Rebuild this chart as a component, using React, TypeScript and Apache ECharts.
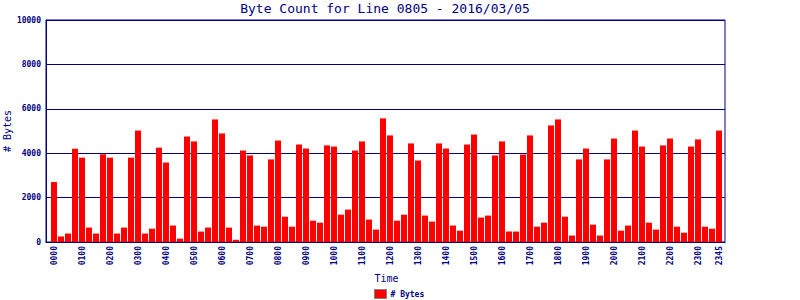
import React, { useEffect, useRef } from "react";
import * as echarts from "echarts";

const TITLE = "Byte Count for Line 0805 - 2016/03/05";
const SERIES_NAME = "# Bytes";

const times = [
  "0000", "0015", "0030", "0045", "0100", "0115", "0130", "0145",
  "0200", "0215", "0230", "0245", "0300", "0315", "0330", "0345",
  "0400", "0415", "0430", "0445", "0500", "0515", "0530", "0545",
  "0600", "0615", "0630", "0645", "0700", "0715", "0730", "0745",
  "0800", "0815", "0830", "0845", "0900", "0915", "0930", "0945",
  "1000", "1015", "1030", "1045", "1100", "1115", "1130", "1145",
  "1200", "1215", "1230", "1245", "1300", "1315", "1330", "1345",
  "1400", "1415", "1430", "1445", "1500", "1515", "1530", "1545",
  "1600", "1615", "1630", "1645", "1700", "1715", "1730", "1745",
  "1800", "1815", "1830", "1845", "1900", "1915", "1930", "1945",
  "2000", "2015", "2030", "2045", "2100", "2115", "2130", "2145",
  "2200", "2215", "2230", "2245", "2300", "2315", "2330", "2345",
];

const bytes = [
  2700, 250, 380, 4200, 3800, 650, 380, 3950,
  3800, 380, 650, 3800, 5020, 380, 600, 4250,
  3580, 740, 150, 4750, 4530, 470, 650, 5520,
  4890, 650, 100, 4120, 3900, 740, 690, 3720,
  4570, 1140, 690, 4390, 4210, 960, 870, 4350,
  4300, 1230, 1460, 4120, 4530, 1010, 560, 5570,
  4800, 960, 1230, 4440, 3670, 1190, 920, 4440,
  4210, 740, 510, 4390, 4840, 1100, 1190, 3900,
  4530, 470, 470, 3940, 4800, 690, 870, 5250,
  5520, 1140, 290, 3720, 4210, 780, 290, 3720,
  4660, 510, 740, 5020, 4300, 870, 560, 4350,
  4660, 690, 420, 4300, 4620, 690, 600, 5020,
];

const Y_MIN = 0;
const Y_MAX = 10000;
const Y_STEP = 2000;

const NAVY = "#000080";
const RED = "#ff0000";
const MONO = '"DejaVu Sans Mono", "Liberation Mono", monospace';

export default function App() {
  const ref = useRef<HTMLDivElement>(null);

  useEffect(() => {
    if (!ref.current) return;
    const chart = echarts.init(ref.current, undefined, { renderer: "svg" });
    const lastIdx = times.length - 1;
    chart.setOption({
      animation: false,
      backgroundColor: "#ffffff",
      graphic: [
        {
          type: "text",
          x: 385,
          y: 2,
          style: {
            text: TITLE,
            fill: NAVY,
            font: `13px ${MONO}`,
            textAlign: "center",
            textVerticalAlign: "top",
          },
        },
      ],
      legend: {
        data: [SERIES_NAME],
        top: 289,
        left: 374,
        padding: 0,
        itemWidth: 12,
        itemHeight: 9,
        itemGap: 4,
        icon: "rect",
        itemStyle: { borderColor: "#808080", borderWidth: 1 },
        textStyle: { color: NAVY, fontFamily: MONO, fontSize: 8, fontWeight: "bold", padding: [0, 0, 0, -1] },
      },
      grid: [
        {
          left: 46,
          right: 75,
          top: 20,
          bottom: 58,
          show: true,
          borderColor: NAVY,
          borderWidth: 1,
          backgroundColor: "transparent",
          containLabel: false,
          outerBoundsMode: "none",
        },
        {
          left: 50.5,
          right: 77.5,
          top: 20,
          bottom: 58,
          containLabel: false,
          outerBoundsMode: "none",
        },
      ],
      xAxis: [
        {
          gridIndex: 0,
          type: "value",
          min: 0,
          max: 1,
          axisLine: { show: true, lineStyle: { color: NAVY, width: 1 } },
          axisTick: { show: false },
          axisLabel: { show: false },
          splitLine: { show: false },
        },
        {
          gridIndex: 1,
          type: "category",
          data: times,
          boundaryGap: true,
          name: "Time",
          nameLocation: "middle",
          nameGap: 31,
          nameTextStyle: { color: NAVY, fontFamily: MONO, fontSize: 10 },
          axisLine: { show: false },
          axisTick: { show: false },
          axisLabel: {
            rotate: 90,
            margin: 4,
            color: NAVY,
            fontFamily: MONO,
            fontSize: 8,
            fontWeight: "bold",
            interval: (idx: number) => idx % 4 === 0 || idx === lastIdx,
          },
          splitLine: { show: false },
        },
      ],
      yAxis: [
        {
          gridIndex: 0,
          type: "value",
          min: Y_MIN,
          max: Y_MAX,
          interval: Y_STEP,
          name: SERIES_NAME,
          nameLocation: "middle",
          nameGap: 34,
          nameMoveOverlap: false,
          nameTextStyle: { color: NAVY, fontFamily: MONO, fontSize: 10 },
          axisLine: { show: true, lineStyle: { color: NAVY, width: 1 } },
          axisTick: { show: false },
          axisLabel: {
            margin: 5,
            color: NAVY,
            fontFamily: MONO,
            fontSize: 8,
            fontWeight: "bold",
            showMinLabel: true,
            showMaxLabel: true,
            formatter: (v: number) => String(v),
          },
          splitLine: { show: true, lineStyle: { color: NAVY, width: 1 } },
        },
        {
          gridIndex: 1,
          type: "value",
          min: Y_MIN,
          max: Y_MAX,
          show: false,
          splitLine: { show: false },
        },
      ],
      series: [
        {
          name: SERIES_NAME,
          type: "bar",
          xAxisIndex: 1,
          yAxisIndex: 1,
          data: bytes,
          barCategoryGap: "14%",
          itemStyle: { color: RED },
          emphasis: { disabled: true },
        },
      ],
    });
    return () => chart.dispose();
  }, []);

  return (
    <div
      ref={ref}
      style={{ position: "absolute", left: 0, top: 0, width: 800, height: 300, background: "#fff" }}
    />
  );
}
